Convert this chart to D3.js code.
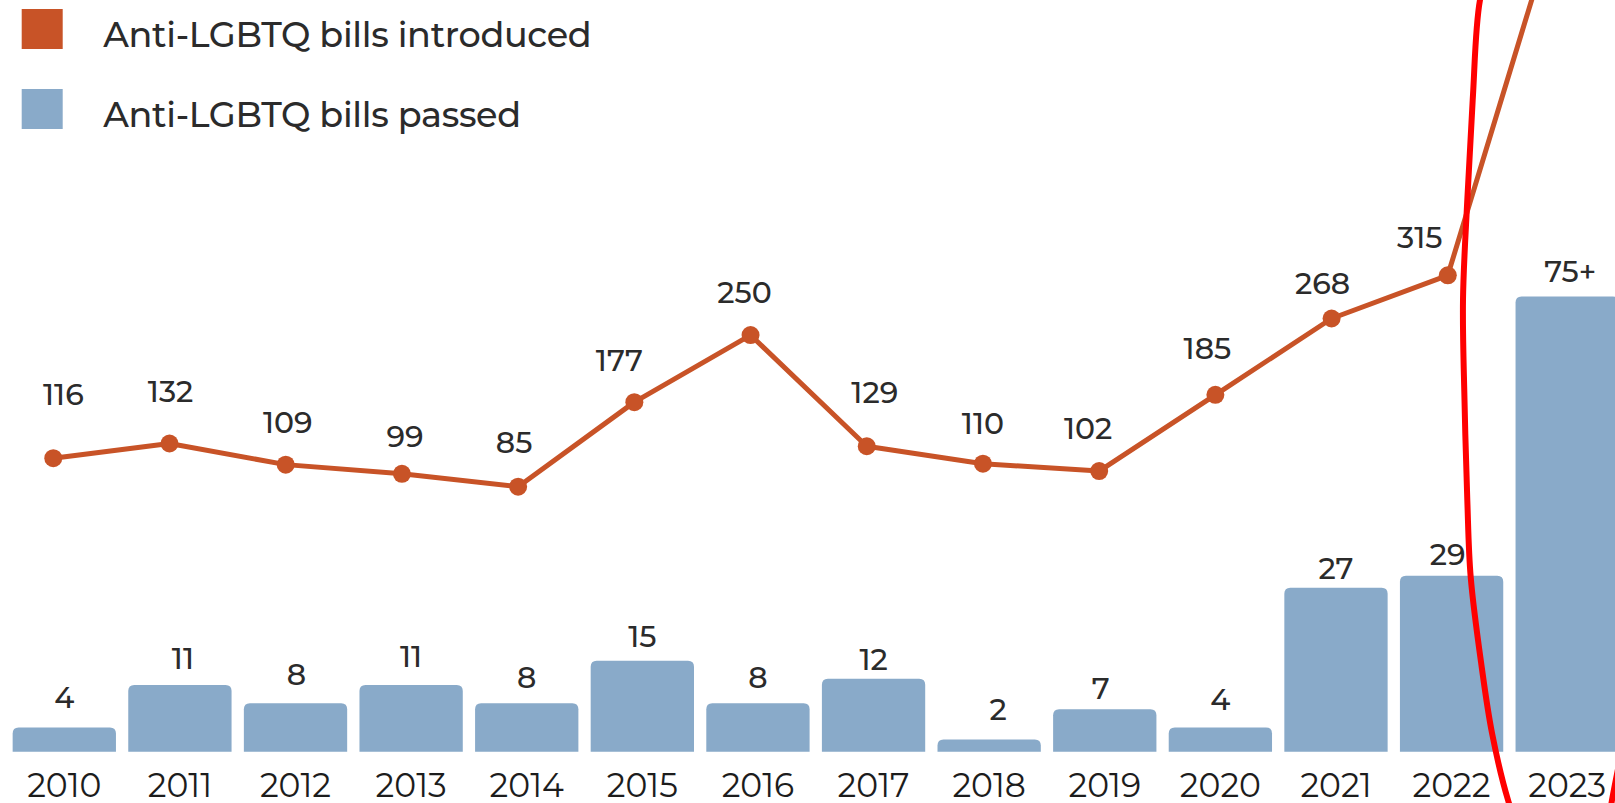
<!DOCTYPE html>
<html>
<head>
<meta charset="utf-8">
<script src="https://cdn.jsdelivr.net/npm/d3@7/dist/d3.min.js"></script>
<style>
  html, body { margin: 0; padding: 0; background: #ffffff; overflow: hidden; }
  svg { display: block; }
  text { font-family: Montserrat, Inter, "Noto Sans", sans-serif; }
</style>
</head>
<body>
<svg id="chart" width="1615" height="803"></svg>
<script>
// ---- data ----
const years = ["2010","2011","2012","2013","2014","2015","2016","2017","2018","2019","2020","2021","2022","2023"];
const introduced = [116,132,109,99,85,177,250,129,110,102,185,268,315,730];
const passed = [4,11,8,11,8,15,8,12,2,7,4,27,29,75];
const passedLabels = ["4","11","8","11","8","15","8","12","2","7","4","27","29","75+"];
const legendLabels = ["Anti-LGBTQ bills introduced","Anti-LGBTQ bills passed"];

const lineLabelDx = [10,1,2,3,-4,-15,-6,8,0,-11,-8,-9,-28,0];
const lineLabelDy = [-21,-9,0,5,-2,1,0,-11,2,0,-4,7,5,0];
const barLabelDx  = [0,3,1,0,0,0,0,0,9,-4,0,0,-4,3];
const barLabelDy  = [-5,-2,-4,-4,-1,0,-1,5,-6,4,-3,5,3,0];

const ORANGE = "#c85327";
const BLUE = "#89aac9";
const TEXT = "#2b2b2b";

const svg = d3.select("#chart");

// scales
const xBar = d3.scaleBand().domain(years).range([6.5, 1625]).paddingInner(0.1064).paddingOuter(0.0532);
const xLine = d3.scalePoint().domain(years).range([53.3, 1564]);
const yBar = d3.scaleLinear().domain([0, 10]).range([751.7, 691.0]);
const yLine = d3.scaleLinear().domain([0, 100]).range([564.8, 472.9]);

// bars with rounded top corners
function topRounded(x, y, w, h, r) {
  r = Math.min(r, h, w / 2);
  return `M${x},${y + h}V${y + r}Q${x},${y} ${x + r},${y}H${x + w - r}Q${x + w},${y} ${x + w},${y + r}V${y + h}Z`;
}
const barData = years.map((yr, i) => ({ yr, v: passed[i], label: passedLabels[i], i }));
svg.append("g").selectAll("path").data(barData).join("path")
  .attr("d", d => topRounded(xBar(d.yr), yBar(d.v), xBar.bandwidth(), yBar(0) - yBar(d.v), 6))
  .attr("fill", BLUE);

// bar labels
svg.append("g").selectAll("text").data(barData).join("text")
  .attr("x", d => xBar(d.yr) + xBar.bandwidth() / 2 + barLabelDx[d.i])
  .attr("y", d => yBar(d.v) - 14 + barLabelDy[d.i])
  .attr("text-anchor", "middle")
  .attr("font-size", 30)
  .attr("font-weight", 500)
  .attr("fill", TEXT)
  .text(d => d.label);

// x axis tick labels
const xAxis = d3.axisBottom(xBar).tickSize(0).tickPadding(0);
const gx = svg.append("g").attr("transform", "translate(0,775)").call(xAxis);
gx.select(".domain").remove();
gx.selectAll("text")
  .attr("dy", 0).attr("y", 22)
  .attr("font-size", 33)
  .attr("font-family", "Montserrat, Inter, sans-serif")
  .attr("fill", "#1c1c1c");

// line
const lineData = years.map((yr, i) => ({ yr, v: introduced[i], i }));
svg.append("path").datum(lineData)
  .attr("fill", "none")
  .attr("stroke", ORANGE)
  .attr("stroke-width", 5)
  .attr("stroke-linejoin", "round")
  .attr("d", d3.line().x(d => xLine(d.yr)).y(d => yLine(d.v)));
svg.append("g").selectAll("circle").data(lineData).join("circle")
  .attr("cx", d => xLine(d.yr)).attr("cy", d => yLine(d.v)).attr("r", 9)
  .attr("fill", ORANGE);

// line labels (only those that fall inside the picture)
svg.append("g").selectAll("text").data(lineData.filter(d => yLine(d.v) - 32 > 0)).join("text")
  .attr("x", d => xLine(d.yr) + lineLabelDx[d.i])
  .attr("y", d => yLine(d.v) - 32 + lineLabelDy[d.i])
  .attr("text-anchor", "middle")
  .attr("font-size", 30)
  .attr("font-weight", 500)
  .attr("fill", TEXT)
  .text(d => d.v);

// legend
const legendColors = [ORANGE, BLUE];
const lg = svg.append("g").selectAll("g").data(legendLabels).join("g")
  .attr("transform", (d, i) => `translate(21.7,${9 + i * 80})`);
lg.append("rect").attr("width", 41).attr("height", 40).attr("fill", (d, i) => legendColors[i]);
lg.append("text").attr("x", 81.5).attr("y", 37.7)
  .attr("font-size", 35).attr("font-weight", 500)
  .attr("letter-spacing", -0.3)
  .attr("fill", TEXT)
  .text(d => d);

// hand-drawn red annotation ellipse
const annotation = [[1492,-40],[1480,0],[1472.7,100],[1467.3,200],[1463,300],[1464.5,400],[1467.3,500],[1470.7,577],[1481.7,667],[1492,733],[1508,800],[1530,860],[1566,893],[1600,872],[1612,800],[1626,730]];
svg.append("path").datum(annotation)
  .attr("fill", "none")
  .attr("stroke", "#ff0000")
  .attr("stroke-width", 6)
  .attr("d", d3.line().curve(d3.curveCatmullRom.alpha(0.5)));
</script>
</body>
</html>
